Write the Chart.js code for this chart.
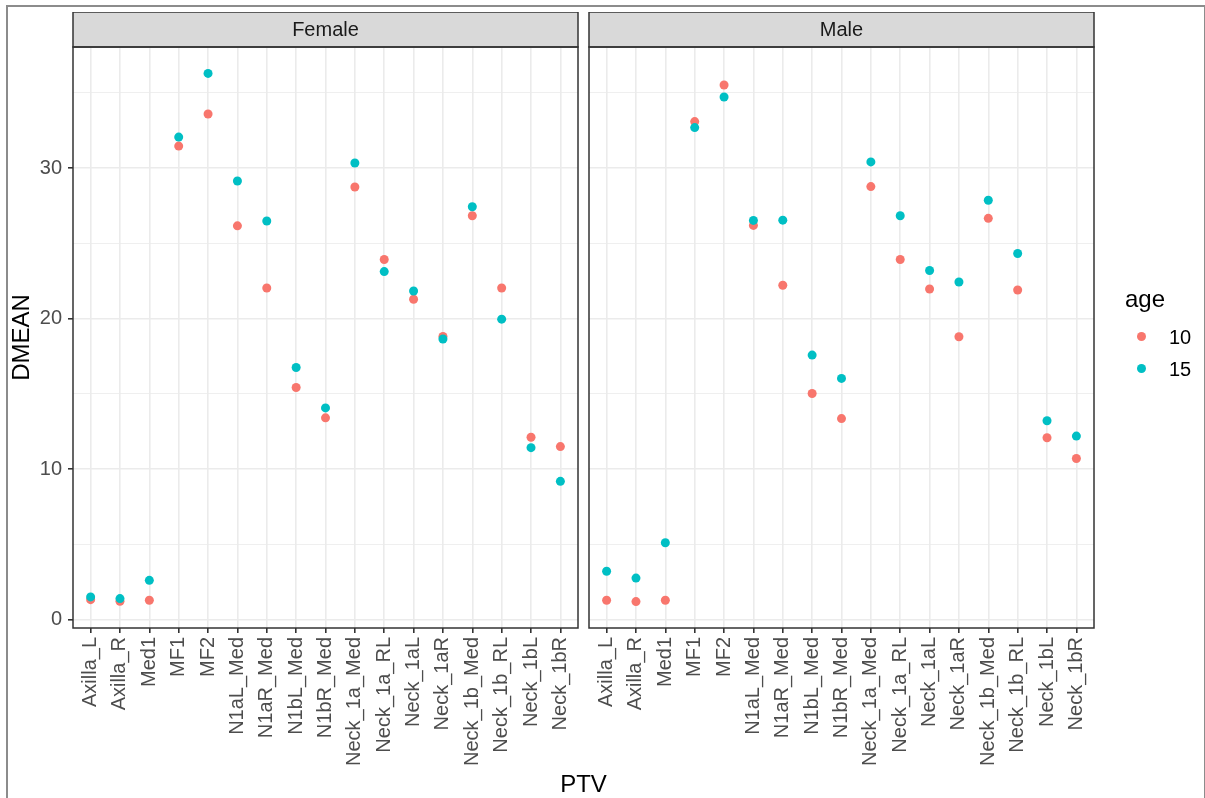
<!DOCTYPE html>
<html>
<head>
<meta charset="utf-8">
<title>DMEAN by PTV</title>
<script src="https://cdn.jsdelivr.net/npm/chart.js@4.4.1/dist/chart.umd.min.js"></script>
<style>
  body { margin: 0; background: #fff; }
  #page { position: relative; width: 1205px; height: 798px; overflow: hidden; background: #fff;
          font-family: 'Liberation Sans', Arial, sans-serif; }
  #frame { position: absolute; left: 6px; top: 5px; width: 1196px; height: 820px;
           border: 2px solid #8c8c8c; border-bottom: none; }
  canvas { position: absolute; top: 12px; }
  #female { left: 0; }
  #male { left: 588px; }
  .txt { position: absolute; white-space: nowrap; color: #000; }
  #xtitle { left: 0; width: 1167px; text-align: center; top: 772px; font-size: 24px; line-height: 24px; }
  #legTitle { left: 1125px; top: 287px; font-size: 24px; line-height: 24px; }
  .legDot { position: absolute; width: 9px; height: 9px; border-radius: 50%; }
  .legLab { font-size: 20px; line-height: 20px; }
</style>
</head>
<body>
<div id="page">
  <div id="frame"></div>
  <canvas id="female" width="580" height="786"></canvas>
  <canvas id="male" width="617" height="786"></canvas>
  <div class="txt" id="xtitle">PTV</div>
  <div class="txt" id="legTitle">age</div>
  <div class="legDot" style="left:1137px; top:332px; background:#F8766D"></div>
  <div class="txt legLab" style="left:1169px; top:327px">10</div>
  <div class="legDot" style="left:1137px; top:364px; background:#00BFC4"></div>
  <div class="txt legLab" style="left:1169px; top:359px">15</div>
</div>
<script>
// categories (x axis)
const PTV = ['Axilla_L', 'Axilla_R', 'Med1', 'MF1', 'MF2', 'N1aL_Med', 'N1aR_Med', 'N1bL_Med',
             'N1bR_Med', 'Neck_1a_Med', 'Neck_1a_RL', 'Neck_1aL', 'Neck_1aR', 'Neck_1b_Med',
             'Neck_1b_RL', 'Neck_1bL', 'Neck_1bR'];

// DMEAN values
const female10 = [1.33, 1.22, 1.29, 31.47, 33.6, 26.17, 22.04, 15.43, 13.41, 28.75, 23.93, 21.29, 18.82, 26.84, 22.04, 12.12, 11.5];
const female15 = [1.51, 1.40, 2.61, 32.07, 36.3, 29.15, 26.49, 16.76, 14.07, 30.35, 23.13, 21.84, 18.65, 27.44, 19.97, 11.43, 9.19];
const male10   = [1.29, 1.20, 1.29, 33.1, 35.53, 26.2, 22.22, 15.03, 13.36, 28.78, 23.93, 21.97, 18.8, 26.67, 21.91, 12.09, 10.71];
const male15   = [3.22, 2.76, 5.11, 32.7, 34.73, 26.53, 26.55, 17.58, 16.03, 30.42, 26.84, 23.2, 22.44, 27.87, 24.33, 13.22, 12.2];

const Y_TICKS = [0, 5, 10, 15, 20, 25, 30, 35];   // major every 10, minor between
const AGES = ['10', '15'];
const COLORS = ['#F8766D', '#00BFC4'];

const STRIP_H = 35;
const FONT = "'Liberation Sans', Arial, sans-serif";
Chart.defaults.font.family = FONT;

// ggplot-like 5% expansion of y, 0.6 on discrete x
const all = female10.concat(female15, male10, male15);
const lo = Math.min(...all), hi = Math.max(...all);
const yMin = lo - (hi - lo) * 0.05, yMax = hi + (hi - lo) * 0.05;

// no extra label padding: panel sizes are fixed by the layout padding
function noPad(s) {
  s.paddingLeft = s.paddingRight = s.paddingTop = s.paddingBottom = 0;
}

// strip header + panel border
const facetPlugin = {
  id: 'facet',
  afterDraw(chart, args, opts) {
    const { ctx, chartArea: a } = chart;
    const w = a.right - a.left;
    ctx.save();
    ctx.fillStyle = '#D9D9D9';
    ctx.fillRect(a.left, a.top - STRIP_H, w, STRIP_H);
    ctx.strokeStyle = '#333333';
    ctx.lineWidth = 1.5;
    ctx.strokeRect(a.left, a.top - STRIP_H, w, STRIP_H);
    ctx.strokeRect(a.left, a.top, w, a.bottom - a.top);
    ctx.fillStyle = '#1A1A1A';
    ctx.font = '20px ' + FONT;
    ctx.textAlign = 'center';
    ctx.textBaseline = 'middle';
    ctx.fillText(opts.label, a.left + w / 2, a.top - STRIP_H / 2 + 1);
    ctx.restore();
  }
};

function makeChart(id, label, s10, s15, showY) {
  const sets = [s10, s15].map((vals, k) => ({
    label: AGES[k],
    data: vals.map((v, i) => ({ x: i, y: v })),
    backgroundColor: COLORS[k],
    borderWidth: 0,
    pointRadius: 4.5,
    pointHoverRadius: 4.5,
    order: 1 - k
  }));
  return new Chart(document.getElementById(id), {
    type: 'scatter',
    data: { datasets: sets },
    plugins: [facetPlugin],
    options: {
      responsive: false,
      animation: false,
      events: [],
      layout: {
        autoPadding: false,
        padding: showY ? { top: STRIP_H, right: 2, left: 0, bottom: 0 }
                       : { top: STRIP_H, right: 111, left: 1, bottom: 0 }
      },
      plugins: {
        legend: { display: false },
        tooltip: { enabled: false },
        facet: { label: label }
      },
      scales: {
        x: {
          type: 'linear',
          min: -0.6,
          max: PTV.length - 1 + 0.6,
          afterBuildTicks: s => { s.ticks = PTV.map((_, i) => ({ value: i })); },
          afterFit: s => { s.height = 170; noPad(s); },
          border: { display: false },
          grid: { color: '#EBEBEB', lineWidth: 1.6, tickColor: '#333333', tickLength: 5 },
          ticks: {
            autoSkip: false, maxRotation: 90, minRotation: 90, padding: 4,
            color: '#4D4D4D', font: { size: 20 },
            callback: v => PTV[v]
          }
        },
        y: {
          min: yMin,
          max: yMax,
          afterBuildTicks: s => { s.ticks = Y_TICKS.map(v => ({ value: v })); },
          afterFit: s => { s.width = showY ? 73 : 0; noPad(s); },
          border: { display: false },
          grid: {
            color: '#EBEBEB',
            lineWidth: c => (c.tick && c.tick.value % 10 === 0) ? 1.6 : 0.8,
            drawTicks: showY,
            tickLength: 5,
            tickColor: c => (c.tick && c.tick.value % 10 === 0) ? '#333333' : 'rgba(0,0,0,0)'
          },
          ticks: {
            display: showY, padding: 6, color: '#4D4D4D', font: { size: 20 },
            callback: v => v % 10 === 0 ? String(v) : ''
          },
          title: {
            display: showY, text: 'DMEAN', color: '#000',
            font: { size: 24 }, padding: { top: 7.6, bottom: 0 }
          }
        }
      }
    }
  });
}

makeChart('female', 'Female', female10, female15, true);
makeChart('male', 'Male', male10, male15, false);
</script>
</body>
</html>
